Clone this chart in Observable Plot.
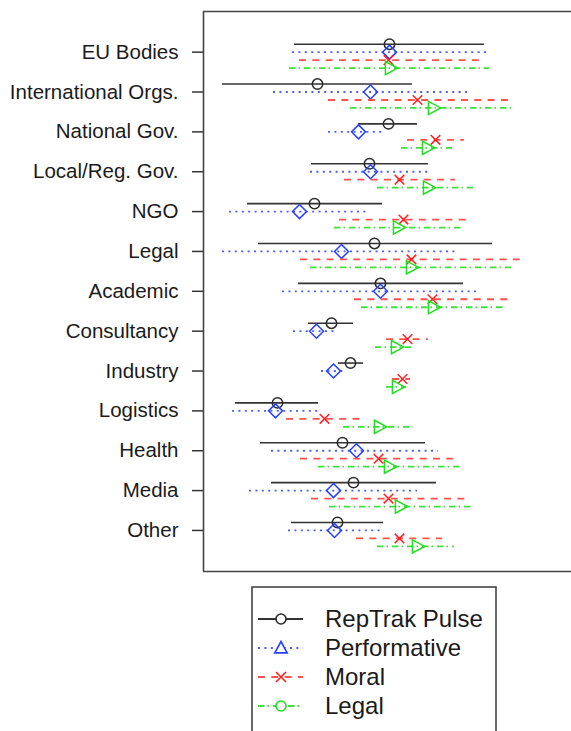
<!DOCTYPE html>
<html>
<head>
<meta charset="utf-8">
<script src="https://cdn.jsdelivr.net/npm/d3@7"></script>
<script src="https://cdn.jsdelivr.net/npm/@observablehq/plot@0.6"></script>
<style>
  html, body { margin: 0; padding: 0; background: #fff; overflow: hidden; width: 571px; height: 731px; }
  #chart svg { display: block; }
  #legend svg { display: block; }
</style>
</head>
<body>
<div id="chart"></div>
<div id="legend"></div>
<script>
// Categories (top to bottom)
const categories = ["EU Bodies", "International Orgs.", "National Gov.", "Local/Reg. Gov.", "NGO", "Legal",
  "Academic", "Consultancy", "Industry", "Logistics", "Health", "Media", "Other"];
const seriesNames = ["RepTrak Pulse", "Performative", "Moral", "Legal"];

// Point estimates and interval bounds per series (arbitrary score units)
const reptrakMean = [18.6, 11.4, 18.5, 16.6, 11.1, 17.1, 17.7, 12.8, 14.7, 7.4, 13.9, 15.0, 13.4];
const reptrakLow  = [ 9.1,  1.9, 15.5, 10.8,  4.4,  5.5,  9.5, 10.5, 13.5, 3.2,  5.7,  6.8,  8.8];
const reptrakHigh = [28.1, 20.9, 21.4, 22.5, 17.9, 28.9, 26.0, 15.0, 16.0, 11.5, 22.2, 23.3, 18.0];

const performativeMean = [18.6, 16.7, 15.5, 16.7,  9.6, 13.8, 17.7, 11.3, 13.0,  7.2, 15.3, 13.0, 13.1];
const performativeLow  = [ 8.9,  7.0, 12.5, 10.7,  2.6,  1.9,  7.9,  9.0, 11.8,  2.9,  6.8,  4.6,  8.5];
const performativeHigh = [28.3, 26.4, 18.2, 22.6, 16.4, 25.5, 27.4, 13.4, 14.0, 11.5, 23.5, 21.4, 17.7];

const moralMean = [18.5, 21.4, 23.2, 19.6, 20.0, 20.8, 22.9, 20.4, 19.9, 12.1, 17.5, 18.5, 19.6];
const moralLow  = [ 9.6, 12.5, 20.4, 14.1, 13.6,  9.7, 15.1, 18.3, 18.9,  8.3,  9.7, 10.8, 15.3];
const moralHigh = [27.6, 30.5, 26.1, 25.2, 26.4, 31.8, 30.8, 22.5, 20.7, 15.9, 25.4, 26.5, 23.9];

const legalMean = [18.7, 23.0, 22.4, 22.5, 19.5, 20.8, 23.0, 19.3, 19.4, 17.6, 18.6, 19.7, 21.4];
const legalLow  = [ 8.6, 14.7, 19.8, 17.4, 13.1, 10.7, 15.8, 17.2, 18.3, 14.0, 11.5, 12.6, 17.4];
const legalHigh = [28.6, 31.1, 24.9, 27.0, 25.9, 30.8, 30.0, 21.0, 20.3, 21.0, 25.7, 26.8, 25.1];

// Custom marker symbols
const circleSym = {draw(ctx, size) { const r = Math.sqrt(size / Math.PI); ctx.moveTo(r, 0); ctx.arc(0, 0, r, 0, 2 * Math.PI); }};
const diamondSym = {draw(ctx, size) { const r = Math.sqrt(size / Math.PI); ctx.moveTo(0, -r); ctx.lineTo(r, 0); ctx.lineTo(0, r); ctx.lineTo(-r, 0); ctx.closePath(); }};
const timesSym = {draw(ctx, size) { const r = Math.sqrt(size / Math.PI); ctx.moveTo(-r, -r); ctx.lineTo(r, r); ctx.moveTo(-r, r); ctx.lineTo(r, -r); }};
const triRightSym = {draw(ctx, size) { const r = Math.sqrt(size / Math.PI); ctx.moveTo(-0.77 * r, -r); ctx.lineTo(1.08 * r, 0); ctx.lineTo(-0.77 * r, r); ctx.closePath(); }};
const triUpSym = {draw(ctx, size) { const r = Math.sqrt(size / Math.PI); ctx.moveTo(0, -r); ctx.lineTo(r * 0.95, r * 0.75); ctx.lineTo(-r * 0.95, r * 0.75); ctx.closePath(); }};

const styles = [
  {name: "RepTrak Pulse", mean: reptrakMean, lo: reptrakLow, hi: reptrakHigh, offset: -0.2, stroke: "#2a2a2a", line: "#333", dash: null, sym: circleSym, r: 5.2, legendSym: circleSym, legendR: 5},
  {name: "Performative", mean: performativeMean, lo: performativeLow, hi: performativeHigh, offset: 0, stroke: "#2640ff", line: "#4d5cff", dash: "2,4.4", sym: diamondSym, r: 7, legendSym: triUpSym, legendR: 6.5},
  {name: "Moral", mean: moralMean, lo: moralLow, hi: moralHigh, offset: 0.2, stroke: "#ff2020", line: "#ff5050", dash: "7,6.3", sym: timesSym, r: 4.8, legendSym: timesSym, legendR: 5},
  {name: "Legal", mean: legalMean, lo: legalLow, hi: legalHigh, offset: 0.4, stroke: "#1ee01e", line: "#3ee03e", dash: "6.5,3,1.5,4", sym: triRightSym, r: 6.6, legendSym: circleSym, legendR: 5}
];

const xDomain = [0, 36.8];
const yDomain = [-1.02, 13.03];

const marks = [];
for (const s of styles) {
  const rows = categories.map((c, i) => ({cat: c, y: i + s.offset, mean: s.mean[i], lo: s.lo[i], hi: s.hi[i]}));
  marks.push(Plot.ruleY(rows, {y: "y", x1: "lo", x2: "hi", stroke: s.line, strokeWidth: s.dash ? 1.8 : 1.6, strokeDasharray: s.dash}));
  marks.push(Plot.dot(rows, {x: "mean", y: "y", symbol: s.sym, r: s.r, stroke: s.stroke, strokeWidth: 1.5, fill: "none"}));
}

const chart = Plot.plot({
  width: 571,
  height: 580,
  marginLeft: 203,
  marginRight: 0,
  marginTop: 11,
  marginBottom: 9,
  style: {fontFamily: "Arial, 'Liberation Sans', sans-serif", background: "#fff", overflow: "visible"},
  x: {domain: xDomain, axis: null},
  y: {domain: yDomain, reverse: true, axis: null},
  marks: [
    ...marks,
    Plot.axisY({ticks: d3.range(categories.length), tickFormat: i => categories[i], tickSize: 11, tickPadding: 14,
      fontSize: 20.5, stroke: "#333", strokeWidth: 1.5, fill: "#1a1a1a", label: null}),
    // open frame: top, bottom and left edges (right edge lies beyond the picture)
    Plot.ruleY(yDomain, {stroke: "#444", strokeWidth: 1.6}),
    Plot.ruleX([xDomain[0]], {stroke: "#444", strokeWidth: 1.6})
  ]
});
document.getElementById("chart").appendChild(chart);

// Legend (below the chart)
const lg = d3.select("#legend").append("svg").attr("width", 571).attr("height", 151)
  .style("font-family", "Arial, 'Liberation Sans', sans-serif");
lg.append("rect").attr("x", 252).attr("y", 7).attr("width", 244).attr("height", 220)
  .attr("fill", "none").attr("stroke", "#444").attr("stroke-width", 1.6);
styles.forEach((s, k) => {
  const y = 39 + k * 29;
  lg.append("line").attr("x1", 258).attr("x2", 303).attr("y1", y).attr("y2", y)
    .attr("stroke", s.line).attr("stroke-width", 1.8).attr("stroke-dasharray", s.dash);
  lg.append("path").attr("transform", `translate(281,${y})`)
    .attr("d", d3.symbol(s.legendSym, Math.PI * s.legendR * s.legendR)())
    .attr("fill", "#fff").attr("stroke", s.stroke).attr("stroke-width", 1.6);
  lg.append("text").attr("x", 325).attr("y", y).attr("dy", "0.35em").attr("font-size", 24)
    .attr("fill", "#1a1a1a").text(s.name);
});
</script>
</body>
</html>
